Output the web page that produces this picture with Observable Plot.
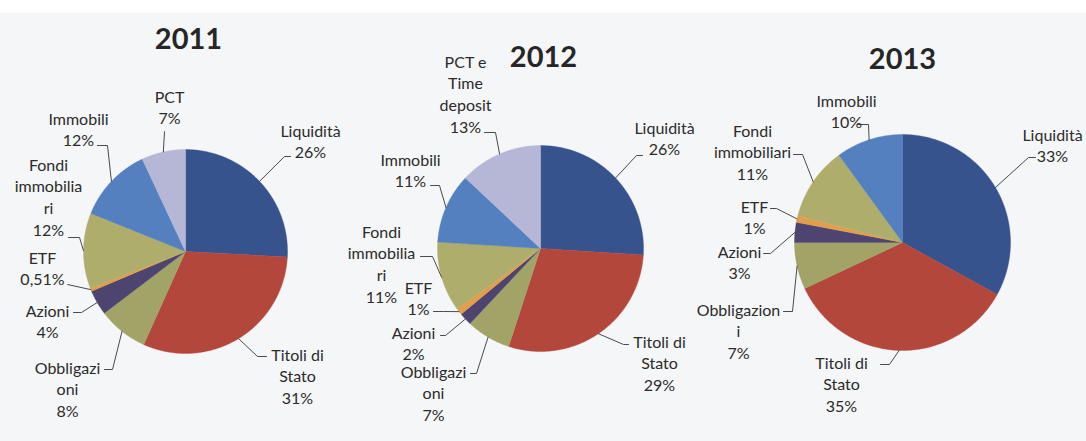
<!DOCTYPE html>
<html><head><meta charset="utf-8">
<script src="https://cdn.jsdelivr.net/npm/d3@7"></script>
<script src="https://cdn.jsdelivr.net/npm/@observablehq/plot@0.6"></script>
<style>
html,body{margin:0;padding:0;}
body{background:linear-gradient(#ffffff 0px,#ffffff 12px,#f5f6f8 13px,#f5f6f8 100%);width:1086px;height:441px;overflow:hidden;}
#chart svg{display:block;}
</style></head><body><div id="chart"></div>
<script>
// ---------- data ----------
const years = ["2011", "2012", "2013"];
const categories = ["Liquidità", "Titoli di Stato", "Obbligazioni", "Azioni", "ETF", "Fondi immobiliari", "Immobili", "PCT"];
const values2011 = [26, 31, 8, 4, 0.51, 12, 12, 7];
const values2012 = [26, 29, 7, 2, 1, 11, 11, 13];
const values2013 = [33, 35, 7, 3, 1, 11, 10];
const names2011 = ["Liquidità", "Titoli di\nStato", "Obbligazi\noni", "Azioni", "ETF", "Fondi\nimmobilia\nri", "Immobili", "PCT"];
const names2012 = ["Liquidità", "Titoli di\nStato", "Obbligazi\noni", "Azioni", "ETF", "Fondi\nimmobilia\nri", "Immobili", "PCT e\nTime\ndeposit"];
const names2013 = ["Liquidità", "Titoli di\nStato", "Obbligazion\ni", "Azioni", "ETF", "Fondi\nimmobiliari", "Immobili"];
const sliceColors = ["#37538e", "#b3473c", "#a2a367", "#4d4470", "#e29e4a", "#afad6b", "#5480bf", "#b6b6d6"];

// ---------- layout (positions only) ----------
const W = 1086, H = 441, FS = 16, LH = 22;
const pies = {
  "2011": {cx: 185, cy: 251, r: 102, tx: 188, ty: 48},
  "2012": {cx: 540, cy: 248, r: 103, tx: 543, ty: 66},
  "2013": {cx: 902, cy: 242, r: 108, tx: 902, ty: 68}
};
// per label: [centerX, firstBaseline, lineEndX, lineEndY, elbowX]
const labelPos = {
  "2011": [[310,136,290,156,284],[297,360,266,356,257],[67,373,104,369,112],[47,316,73,312,81],[42,263,67,284,67],[48,170,68,237,79],[78,124,97,145,107],[169,102,164,131,164]],
  "2012": [[664,133,642,155,636],[659,347,628,344,623],[433,377,470,373,476],[413,338,440,335,445],[418,293,433,311,443],[381,237,420,256,432],[410,165,430,185,439],[465,67,484,132,495]],
  "2013": [[1052,140,1035,157,1028],[841,368,880,364,889],[738,315,783,311,792],[739,257,763,253,770],[754,212,770,208,776],[752,136,793,154,802],[846,106,857,124,868]]
};

const valuesByYear = {"2011": values2011, "2012": values2012, "2013": values2013};
const namesByYear = {"2011": names2011, "2012": names2012, "2013": names2013};
const fmtPct = v => String(v).replace(".", ",") + "%";

const sliceRows = [], leaderRows = [], labelRows = [], titleRows = [];
for (const yr of years) {
  const vals = valuesByYear[yr], p = pies[yr];
  const arcs = d3.pie().sort(null).value(d => d)(vals);
  titleRows.push({x: p.tx, y: p.ty, text: yr});
  arcs.forEach((a, i) => {
    const key = yr + "-" + i, cat = categories[i];
    sliceRows.push({key, cat, x: p.cx, y: p.cy});
    const n = Math.max(2, Math.ceil((a.endAngle - a.startAngle) / 0.01));
    for (let k = 0; k <= n; k++) {
      const t = a.startAngle + (a.endAngle - a.startAngle) * k / n;
      sliceRows.push({key, cat, x: p.cx + p.r * Math.sin(t), y: p.cy - p.r * Math.cos(t)});
    }
    sliceRows.push({key, cat, x: p.cx, y: p.cy});
    const m = (a.startAngle + a.endAngle) / 2;
    const [lx, b, ex1, ey1, elx] = labelPos[yr][i];
    leaderRows.push({key, x: p.cx + p.r * Math.sin(m), y: p.cy - p.r * Math.cos(m)});
    leaderRows.push({key, x: elx, y: ey1});
    leaderRows.push({key, x: ex1, y: ey1});
    labelRows.push({x: lx, y: b - 0.71 * LH, text: namesByYear[yr][i] + "\n" + fmtPct(vals[i])});
  });
}

const chart = Plot.plot({
  width: W, height: H,
  margin: 0,
  x: {domain: [0, W], range: [0, W], axis: null},
  y: {domain: [0, H], range: [0, H], axis: null},
  color: {domain: categories, range: sliceColors},
  style: {background: "transparent", fontFamily: "Lato, 'Open Sans', sans-serif", color: "#2b2b2b"},
  marks: [
    Plot.line(sliceRows, {x: "x", y: "y", z: "key", fill: "cat", stroke: "cat", strokeWidth: 0.4, curve: "linear"}),
    Plot.line(leaderRows, {x: "x", y: "y", z: "key", stroke: "#4a4a4a", strokeWidth: 1, curve: "linear"}),
    Plot.text(labelRows, {x: "x", y: "y", text: "text", fontSize: FS, lineHeight: LH / FS, lineAnchor: "top", textAnchor: "middle", fill: "#2b2b2b"}),
    Plot.text(titleRows, {x: "x", y: "y", text: "text", fontSize: 29, fontWeight: "bold", lineAnchor: "bottom", textAnchor: "middle", fill: "#262626"})
  ]
});
document.getElementById("chart").appendChild(chart);
</script>
</body></html>
